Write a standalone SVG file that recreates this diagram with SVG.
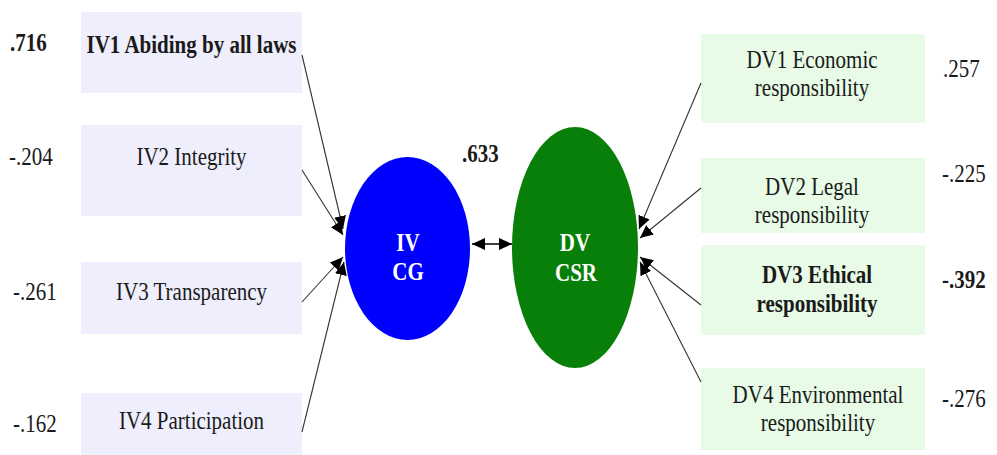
<svg xmlns="http://www.w3.org/2000/svg" width="997" height="455" viewBox="0 0 997 455">
<defs>
<style>
text{font-family:"Liberation Serif","Times New Roman",serif;font-size:21px;fill:#1a1a1a}
.b{font-weight:bold}
.m{text-anchor:middle}
.iv{fill:#eeeefc}
.dv{fill:#e7fbe7}
.w{fill:#ffffff;font-weight:bold}
.c{stroke:#333;stroke-width:1.1;fill:none;marker-end:url(#ah)}
</style>
<marker id="ah" markerUnits="userSpaceOnUse" markerWidth="14" markerHeight="12" refX="13" refY="6" orient="auto">
<path d="M0,0 L13,6 L0,12 z" fill="#000"/>
</marker>
<marker id="ahs" markerUnits="userSpaceOnUse" markerWidth="14" markerHeight="12" refX="1" refY="6" orient="auto">
<path d="M14,0 L1,6 L14,12 z" fill="#000"/>
</marker>
</defs>
<rect width="997" height="455" fill="#fff"/>
<g id="iv1"><rect class="iv" x="81" y="12" width="221" height="81"/>
<text class="b m" transform="translate(191.5,53) scale(1,1.2)">IV1 Abiding by all laws</text>
<text class="b" transform="translate(10,51) scale(1,1.2)">.716</text></g>
<g id="iv2"><rect class="iv" x="81" y="125" width="221" height="91"/>
<text class="m" transform="translate(191.5,165) scale(1,1.2)">IV2 Integrity</text>
<text transform="translate(9,165) scale(1,1.2)">-.204</text></g>
<g id="iv3"><rect class="iv" x="81" y="262" width="221" height="72"/>
<text class="m" transform="translate(191.5,300) scale(1,1.2)">IV3 Transparency</text>
<text transform="translate(13,300) scale(1,1.2)">-.261</text></g>
<g id="iv4"><rect class="iv" x="81" y="393" width="221" height="62"/>
<text class="m" transform="translate(191.5,429) scale(1,1.2)">IV4 Participation</text>
<text transform="translate(13,432) scale(1,1.2)">-.162</text></g>
<g id="ivcg"><ellipse cx="407.5" cy="248.5" rx="62.5" ry="91.5" fill="#0000ff"/>
<text class="w m" transform="translate(408,251) scale(1,1.2)"><tspan x="0" y="0">IV</tspan><tspan x="0" y="24.17">CG</tspan></text></g>
<g id="dvcsr"><ellipse cx="575" cy="247.5" rx="63" ry="120.5" fill="#087f08"/>
<text class="w m" transform="translate(575,251) scale(1,1.2)"><tspan x="0" y="0">DV</tspan><tspan x="1" y="25">CSR</tspan></text></g>
<g id="dv1"><rect class="dv" x="701" y="34" width="224" height="89"/>
<text class="m" transform="translate(812,68) scale(1,1.2)"><tspan x="0" y="0">DV1 Economic</tspan><tspan x="0" y="23.4">responsibility</tspan></text>
<text transform="translate(943,77) scale(1,1.2)">.257</text></g>
<g id="dv2"><rect class="dv" x="701" y="158" width="224" height="75"/>
<text class="m" transform="translate(812,195) scale(1,1.2)"><tspan x="0" y="0">DV2 Legal</tspan><tspan x="0" y="23.4">responsibility</tspan></text>
<text transform="translate(942,182) scale(1,1.2)">-.225</text></g>
<g id="dv3"><rect class="dv" x="701" y="245" width="224" height="90"/>
<text class="b m" transform="translate(817,283) scale(1,1.2)"><tspan x="0" y="0">DV3 Ethical</tspan><tspan x="0" y="24.2">responsibility</tspan></text>
<text class="b" transform="translate(942,288) scale(1,1.2)">-.392</text></g>
<g id="dv4"><rect class="dv" x="701" y="368" width="224" height="82"/>
<text class="m" transform="translate(818,403) scale(1,1.2)"><tspan x="0" y="0">DV4 Environmental</tspan><tspan x="0" y="23.4">responsibility</tspan></text>
<text transform="translate(942,407) scale(1,1.2)">-.276</text></g>
<text class="b" transform="translate(462,162) scale(1,1.2)">.633</text>
<g id="connectors">
<line class="c" x1="302" y1="55" x2="343" y2="229"/>
<line class="c" x1="302" y1="170" x2="343" y2="235"/>
<line class="c" x1="302" y1="302" x2="343" y2="257"/>
<line class="c" x1="302" y1="432" x2="344" y2="262"/>
<line class="c" x1="701" y1="83" x2="639" y2="229"/>
<line class="c" x1="701" y1="188" x2="640" y2="238"/>
<line class="c" x1="701" y1="305" x2="640" y2="257"/>
<line class="c" x1="701" y1="382" x2="640" y2="262"/>
<line x1="472" y1="244" x2="512" y2="244" stroke="#000" stroke-width="1.5" marker-start="url(#ahs)" marker-end="url(#ah)"/>
</g>
</svg>
